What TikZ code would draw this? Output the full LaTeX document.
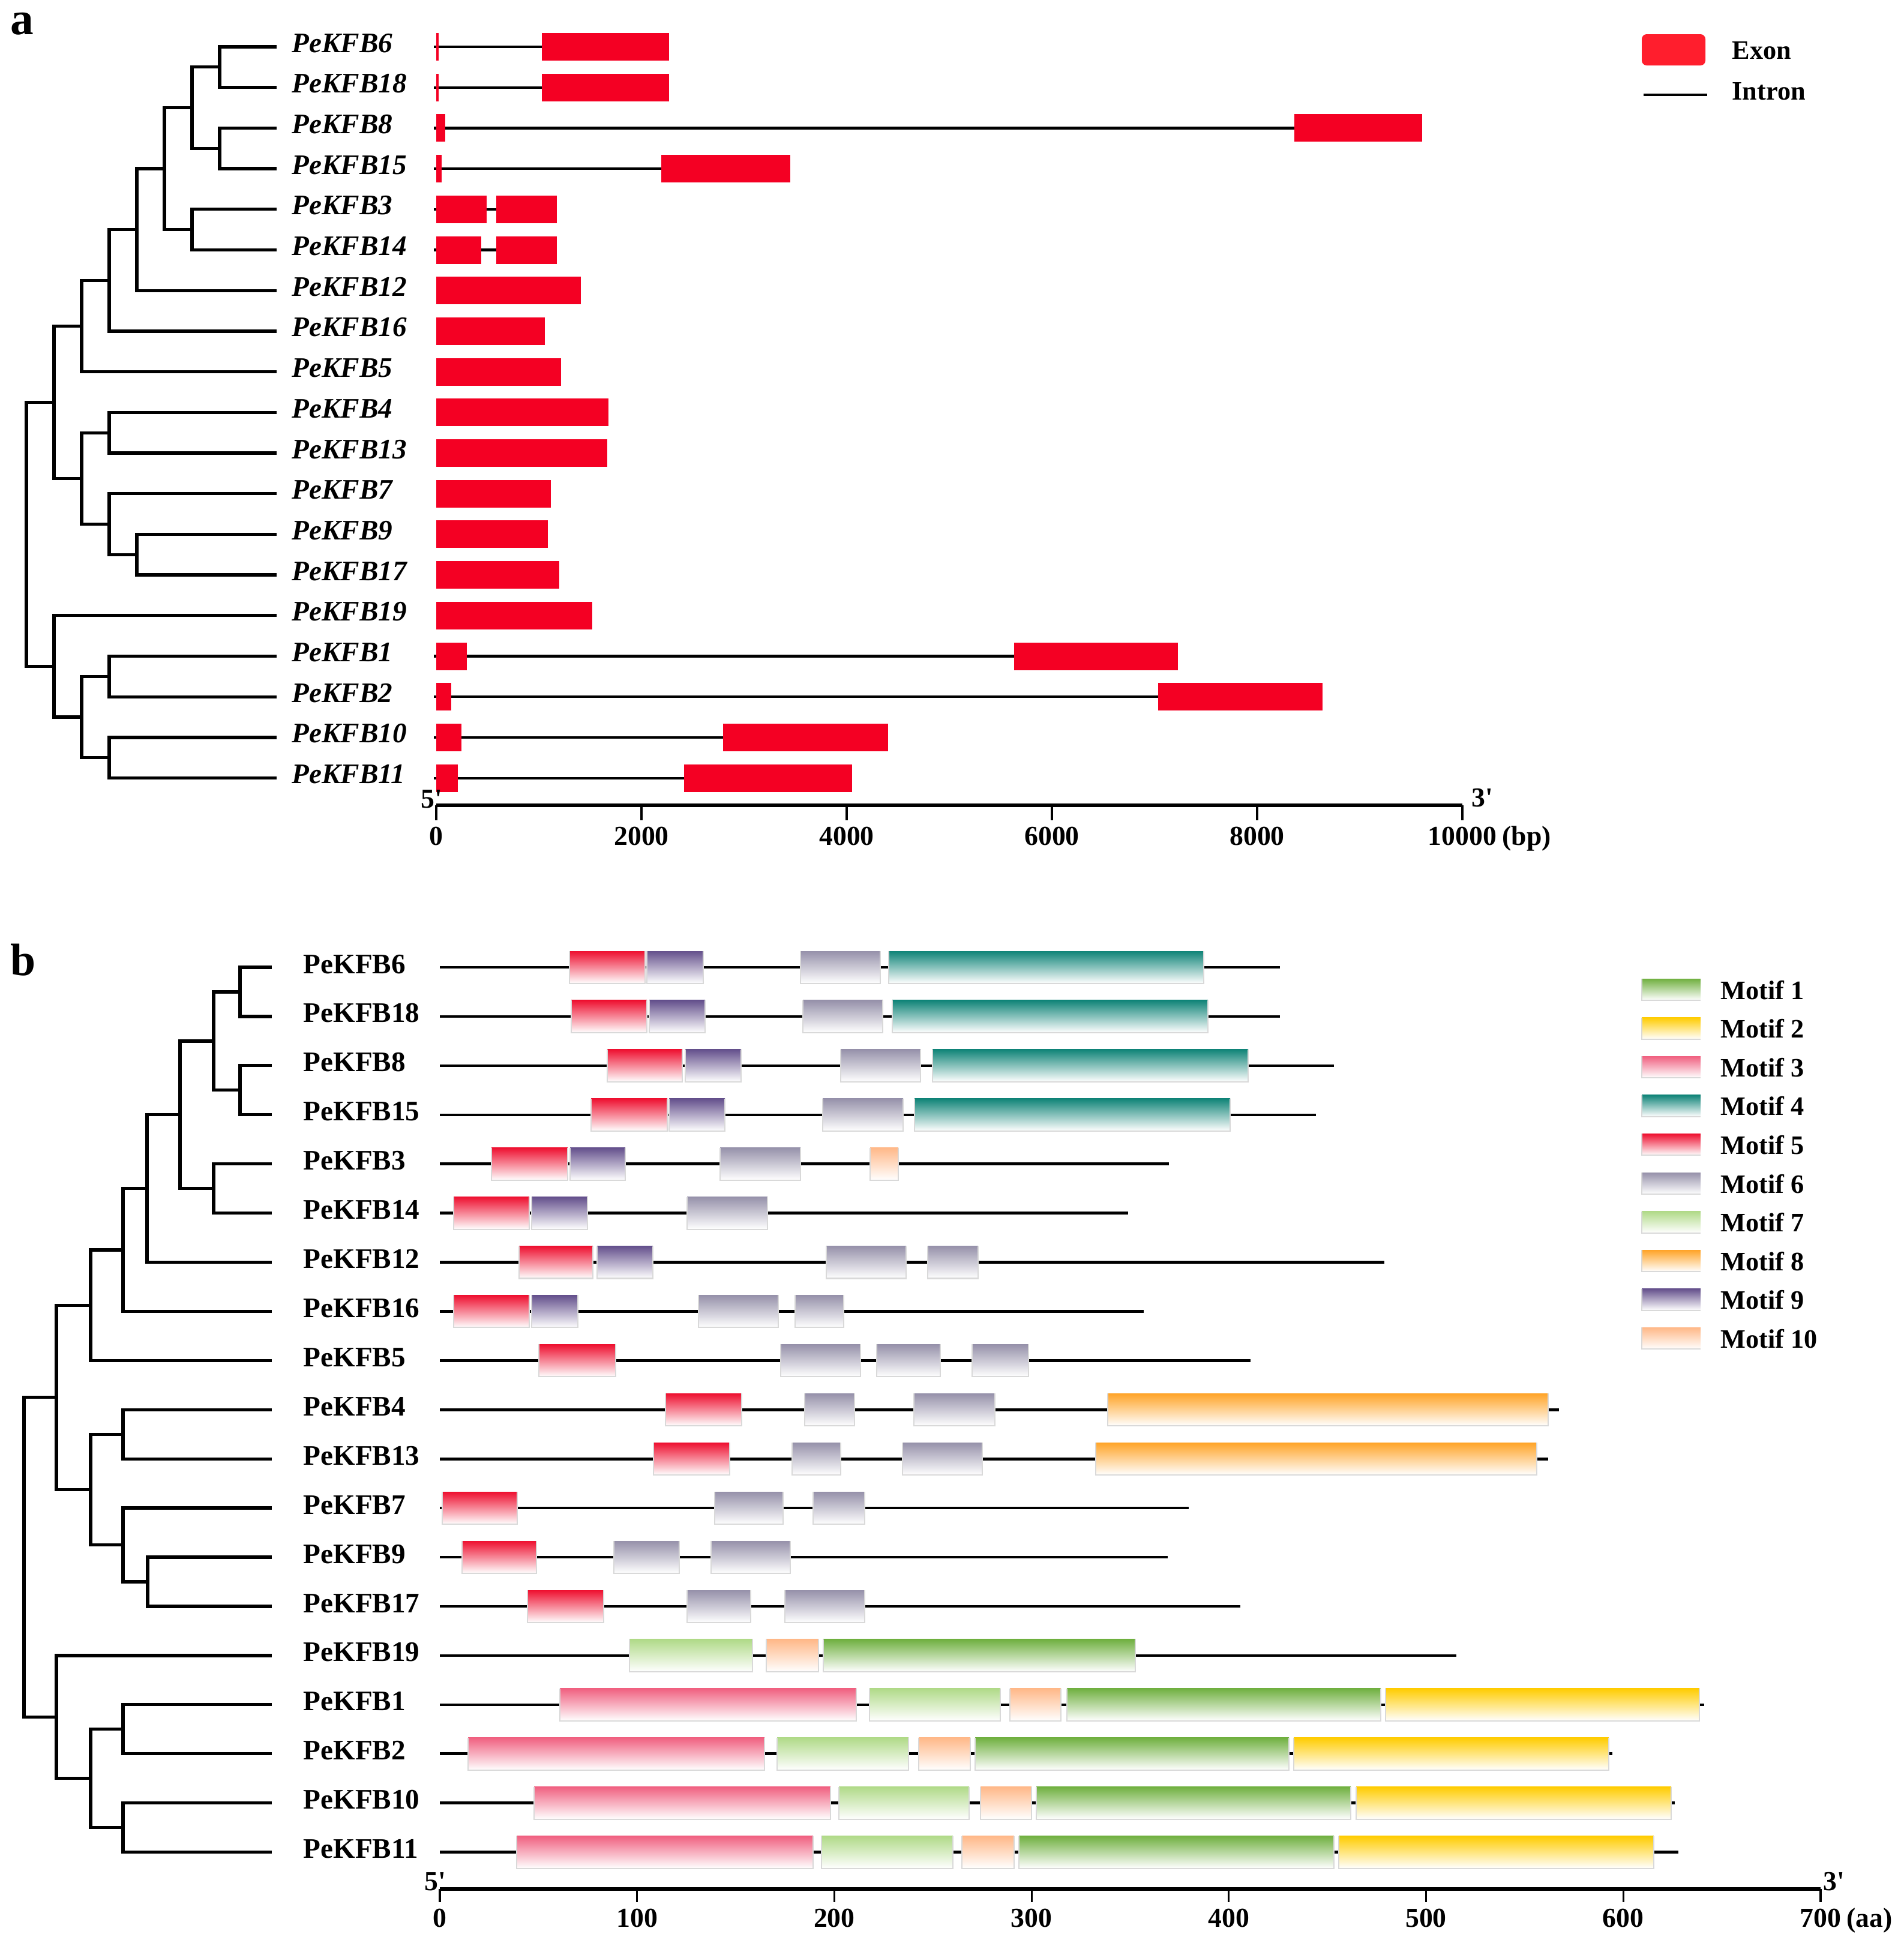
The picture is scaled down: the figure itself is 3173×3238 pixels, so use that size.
\documentclass[tikz,border=0pt]{standalone}
\usepackage{fontspec}
\setmainfont{Liberation Serif}
\definecolor{exonred}{RGB}{244,0,35}
\definecolor{legred}{RGB}{255,30,45}
\definecolor{mot1}{RGB}{112,176,64}
\definecolor{mot2}{RGB}{255,204,0}
\definecolor{mot3}{RGB}{240,96,128}
\definecolor{mot4}{RGB}{16,132,120}
\definecolor{mot5}{RGB}{238,16,48}
\definecolor{mot6}{RGB}{150,145,170}
\definecolor{mot7}{RGB}{176,218,136}
\definecolor{mot8}{RGB}{255,164,40}
\definecolor{mot9}{RGB}{100,80,140}
\definecolor{mot10}{RGB}{255,184,136}
\newcommand\NmFont{\fontsize{13.4pt}{16pt}\selectfont\bfseries}
\newcommand\LgFont{\fontsize{12.6pt}{15pt}\selectfont\bfseries}
\newcommand\AxFont{\fontsize{13pt}{15pt}\selectfont\bfseries}
\newcommand\ExonBox[3]{\fill[exonred] ({#2},{#1-23}) rectangle ({#3},{#1+23});}
\newcommand\IntronLine[3]{\draw[intron] ({#2},{#1}) -- ({#3},{#1});}
\newcommand\ProtLine[2]{\draw[prot] (733,{#1}) -- ({#2},{#1});}
\newcommand\MotifBox[4]{%
  \shade[top color=#4, middle color=#4!45, bottom color=white] ({#2},{#1-27}) rectangle ({#3},{#1+27});
  \draw[black!15, line width=0.6pt] ({#2},{#1-27}) -- ({#2},{#1+27}) -- ({#3},{#1+27}) -- ({#3},{#1-27});}
\newcommand\LegBox[2]{%
  \shade[top color=#2, middle color=#2!45, bottom color=white] (2736,{#1}) rectangle (2834,{#1+36});
  \draw[black!15, line width=0.6pt] (2736,{#1}) -- (2736,{#1+36}) -- (2834,{#1+36});}
\begin{document}
\begin{tikzpicture}[x=0.01cm,y=-0.01cm,
  treeline/.style={line width=1.5pt, line cap=rect},
  intron/.style={line width=1.2pt},
  prot/.style={line width=1.3pt},
  axisline/.style={line width=1.6pt},
  tickline/.style={line width=0.9pt},
  alab/.style={anchor=base west, inner sep=0pt, font=\NmFont\itshape},
  blab/.style={anchor=base west, inner sep=0pt, font=\NmFont},
  axlab/.style={anchor=base, inner sep=0pt, font=\AxFont},
  leglab/.style={anchor=base west, inner sep=0pt, font=\LgFont}]
\useasboundingbox[fill=white] (0,0) rectangle (3173,3238);

% panel letters
\node[anchor=base west, inner sep=0pt, font=\fontsize{22pt}{24pt}\selectfont\bfseries] (pa) at (17,57) {a};
\node[anchor=base west, inner sep=0pt, font=\fontsize{21.5pt}{24pt}\selectfont\bfseries] (pb) at (17,1625) {b};

% ================= PANEL A =================
\foreach \g/\yy in {6/78,18/145.7,8/213.4,15/281.1,3/348.8,14/416.5,12/484.2,16/551.9,5/619.6,4/687.3,13/755,7/822.7,9/890.4,17/958.1,19/1025.8,1/1093.5,2/1161.2,10/1228.9,11/1296.6}{
  \coordinate (aL\g) at (458,\yy);
  \node[alab] (aT\g) at (486,\yy+9) {PeKFB\g};
}
\coordinate (aN618) at (366,111.85);
\coordinate (aN815) at (366,247.25);
\coordinate (aNAa) at (320,179.55);
\coordinate (aN314) at (320,382.65);
\coordinate (aNA) at (274,281.1);
\coordinate (aNB) at (228,382.65);
\coordinate (aNC) at (182,467.3);
\coordinate (aND) at (136,543.45);
\coordinate (aN413) at (182,721.15);
\coordinate (aN917) at (228,924.25);
\coordinate (aN7917) at (182,873.55);
\coordinate (aNE) at (136,797.35);
\coordinate (aNF) at (90,670.4);
\coordinate (aN12) at (182,1127.35);
\coordinate (aN1011) at (182,1262.75);
\coordinate (aNG) at (136,1195.05);
\coordinate (aNH) at (90,1110.4);
\coordinate (aRoot) at (44,890.4);
\foreach \p/\c in {aRoot/aNF,aRoot/aNH,aNF/aND,aNF/aNE,aND/aNC,aND/aL5,aNC/aNB,aNC/aL16,aNB/aNA,aNB/aL12,aNA/aNAa,aNA/aN314,aNAa/aN618,aNAa/aN815,aN618/aL6,aN618/aL18,aN815/aL8,aN815/aL15,aN314/aL3,aN314/aL14,aNE/aN413,aNE/aN7917,aN413/aL4,aN413/aL13,aN7917/aL7,aN7917/aN917,aN917/aL9,aN917/aL17,aNH/aL19,aNH/aNG,aNG/aN12,aNG/aN1011,aN12/aL1,aN12/aL2,aN1011/aL10,aN1011/aL11}
  \draw[treeline] (\p) |- (\c);

% gene structures
\IntronLine{78}{723}{1115} \ExonBox{78}{727}{731} \ExonBox{78}{903}{1115}
\IntronLine{145.7}{723}{1115} \ExonBox{145.7}{727}{731} \ExonBox{145.7}{903}{1115}
\IntronLine{213.4}{723}{2370} \ExonBox{213.4}{727}{742} \ExonBox{213.4}{2157}{2370}
\IntronLine{281.1}{723}{1317} \ExonBox{281.1}{727}{736} \ExonBox{281.1}{1102}{1317}
\IntronLine{348.8}{723}{927} \ExonBox{348.8}{727}{811} \ExonBox{348.8}{826.5}{927.5}
\IntronLine{416.5}{723}{927} \ExonBox{416.5}{727}{802} \ExonBox{416.5}{826.5}{927.5}
\ExonBox{484.2}{727}{968}
\ExonBox{551.9}{727}{908}
\ExonBox{619.6}{727}{935}
\ExonBox{687.3}{727}{1014}
\ExonBox{755}{727}{1012}
\ExonBox{822.7}{727}{918}
\ExonBox{890.4}{727}{913}
\ExonBox{958.1}{727}{932}
\ExonBox{1025.8}{727}{987}
\IntronLine{1093.5}{723}{1963} \ExonBox{1093.5}{727}{777.5} \ExonBox{1093.5}{1690}{1963}
\IntronLine{1161.2}{723}{2204} \ExonBox{1161.2}{727}{752} \ExonBox{1161.2}{1930}{2204}
\IntronLine{1228.9}{723}{1480} \ExonBox{1228.9}{727}{769} \ExonBox{1228.9}{1205}{1480}
\IntronLine{1296.6}{723}{1420} \ExonBox{1296.6}{727}{763} \ExonBox{1296.6}{1140}{1420}

% legend a
\fill[legred, rounded corners=2.3pt] (2736,57) rectangle (2842,109);
\draw[line width=1.4pt] (2739,158) -- (2845,158);
\node[leglab] (lgExon) at (2886,98) {Exon};
\node[leglab] (lgIntron) at (2886,166) {Intron};

% axis a
\draw[axisline] (727,1342) -- (2437,1342);
\foreach \v [count=\k from 0] in {0,2000,4000,6000,8000,10000}
  \draw[tickline] ({727+342*\k},1342) -- ({727+342*\k},1367);
\foreach \v [count=\k from 0] in {0,2000,4000,6000,8000}
  \node[axlab] (aX\k) at ({727+342*\k},1408) {\v};
\node[axlab] (aX5) at (2437,1408) {10000};
\node[anchor=base west, inner sep=0pt, font=\AxFont] (aXu) at ([xshift=0.08cm]aX5.base east) {(bp)};
\node[anchor=base west, inner sep=0pt, font=\AxFont] (a5p) at (701,1346) {5\textquotesingle};
\node[anchor=base west, inner sep=0pt, font=\AxFont] (a3p) at (2452,1344) {3\textquotesingle};

% ================= PANEL B =================
\foreach \g/\yy in {6/1612,18/1693.9,8/1775.8,15/1857.8,3/1939.7,14/2021.6,12/2103.5,16/2185.4,5/2267.4,4/2349.3,13/2431.2,7/2513.1,9/2595,17/2677,19/2758.9,1/2840.8,2/2922.7,10/3004.6,11/3086.6}{
  \coordinate (bL\g) at (450,\yy);
  \node[blab] (bT\g) at (505,\yy+10) {PeKFB\g};
}
\coordinate (bN618) at (400,1652.95);
\coordinate (bN815) at (400,1816.8);
\coordinate (bNAa) at (356,1734.9);
\coordinate (bN314) at (356,1980.65);
\coordinate (bNA) at (300,1857.8);
\coordinate (bNB) at (245,1980.65);
\coordinate (bNC) at (205,2083.0);
\coordinate (bND) at (151,2175.2);
\coordinate (bN413) at (205,2390.25);
\coordinate (bN917) at (246,2636.0);
\coordinate (bN7917) at (205,2574.55);
\coordinate (bNE) at (151,2482.4);
\coordinate (bNF) at (94,2328.8);
\coordinate (bN12) at (205,2881.75);
\coordinate (bN1011) at (205,3045.6);
\coordinate (bNG) at (151,2963.7);
\coordinate (bNH) at (94,2861.3);
\coordinate (bRoot) at (40,2595.05);
\foreach \p/\c in {bRoot/bNF,bRoot/bNH,bNF/bND,bNF/bNE,bND/bNC,bND/bL5,bNC/bNB,bNC/bL16,bNB/bNA,bNB/bL12,bNA/bNAa,bNA/bN314,bNAa/bN618,bNAa/bN815,bN618/bL6,bN618/bL18,bN815/bL8,bN815/bL15,bN314/bL3,bN314/bL14,bNE/bN413,bNE/bN7917,bN413/bL4,bN413/bL13,bN7917/bL7,bN7917/bN917,bN917/bL9,bN917/bL17,bNH/bL19,bNH/bNG,bNG/bN12,bNG/bN1011,bN12/bL1,bN12/bL2,bN1011/bL10,bN1011/bL11}
  \draw[treeline] (\p) |- (\c);

% motif rows
\ProtLine{1612}{2133}
\MotifBox{1612}{949}{1075}{mot5}\MotifBox{1612}{1078}{1172}{mot9}\MotifBox{1612}{1334}{1467}{mot6}\MotifBox{1612}{1481}{2006}{mot4}
\ProtLine{1693.9}{2133}
\MotifBox{1693.9}{952}{1078}{mot5}\MotifBox{1693.9}{1082}{1175}{mot9}\MotifBox{1693.9}{1338}{1471}{mot6}\MotifBox{1693.9}{1487}{2013}{mot4}
\ProtLine{1775.8}{2223}
\MotifBox{1775.8}{1012}{1137}{mot5}\MotifBox{1775.8}{1142}{1235}{mot9}\MotifBox{1775.8}{1401}{1534}{mot6}\MotifBox{1775.8}{1554}{2080}{mot4}
\ProtLine{1857.8}{2193}
\MotifBox{1857.8}{985}{1112}{mot5}\MotifBox{1857.8}{1115}{1208}{mot9}\MotifBox{1857.8}{1371}{1505}{mot6}\MotifBox{1857.8}{1524}{2050}{mot4}
\ProtLine{1939.7}{1948}
\MotifBox{1939.7}{819}{946}{mot5}\MotifBox{1939.7}{950}{1042}{mot9}\MotifBox{1939.7}{1200}{1334}{mot6}\MotifBox{1939.7}{1450}{1497}{mot10}
\ProtLine{2021.6}{1880}
\MotifBox{2021.6}{756}{882}{mot5}\MotifBox{2021.6}{886}{979}{mot9}\MotifBox{2021.6}{1145}{1279}{mot6}
\ProtLine{2103.5}{2307}
\MotifBox{2103.5}{865}{988}{mot5}\MotifBox{2103.5}{995}{1088}{mot9}\MotifBox{2103.5}{1377}{1510}{mot6}\MotifBox{2103.5}{1546}{1630}{mot6}
\ProtLine{2185.4}{1906}
\MotifBox{2185.4}{756}{882}{mot5}\MotifBox{2185.4}{886}{963}{mot9}\MotifBox{2185.4}{1164}{1297}{mot6}\MotifBox{2185.4}{1325}{1406}{mot6}
\ProtLine{2267.4}{2084}
\MotifBox{2267.4}{898}{1026}{mot5}\MotifBox{2267.4}{1301}{1434}{mot6}\MotifBox{2267.4}{1461}{1567}{mot6}\MotifBox{2267.4}{1620}{1714}{mot6}
\ProtLine{2349.3}{2598}
\MotifBox{2349.3}{1109}{1236}{mot5}\MotifBox{2349.3}{1341}{1424}{mot6}\MotifBox{2349.3}{1523}{1658}{mot6}\MotifBox{2349.3}{1846}{2580}{mot8}
\ProtLine{2431.2}{2580}
\MotifBox{2431.2}{1089}{1216}{mot5}\MotifBox{2431.2}{1320}{1401}{mot6}\MotifBox{2431.2}{1504}{1637}{mot6}\MotifBox{2431.2}{1826}{2561}{mot8}
\ProtLine{2513.1}{1981}
\MotifBox{2513.1}{737}{862}{mot5}\MotifBox{2513.1}{1191}{1305}{mot6}\MotifBox{2513.1}{1355}{1441}{mot6}
\ProtLine{2595}{1946}
\MotifBox{2595}{770}{894}{mot5}\MotifBox{2595}{1023}{1132}{mot6}\MotifBox{2595}{1185}{1317}{mot6}
\ProtLine{2677}{2067}
\MotifBox{2677}{879}{1006}{mot5}\MotifBox{2677}{1145}{1251}{mot6}\MotifBox{2677}{1308}{1441}{mot6}
\ProtLine{2758.9}{2427}
\MotifBox{2758.9}{1049}{1254}{mot7}\MotifBox{2758.9}{1277}{1364}{mot10}\MotifBox{2758.9}{1372}{1892}{mot1}
\ProtLine{2840.8}{2840}
\MotifBox{2840.8}{933}{1427}{mot3}\MotifBox{2840.8}{1449}{1667}{mot7}\MotifBox{2840.8}{1683}{1768}{mot10}\MotifBox{2840.8}{1778}{2301}{mot1}\MotifBox{2840.8}{2309}{2832}{mot2}
\ProtLine{2922.7}{2687}
\MotifBox{2922.7}{780}{1274}{mot3}\MotifBox{2922.7}{1295}{1514}{mot7}\MotifBox{2922.7}{1531}{1617}{mot10}\MotifBox{2922.7}{1625}{2148}{mot1}\MotifBox{2922.7}{2156}{2681}{mot2}
\ProtLine{3004.6}{2791}
\MotifBox{3004.6}{890}{1384}{mot3}\MotifBox{3004.6}{1398}{1615}{mot7}\MotifBox{3004.6}{1634}{1719}{mot10}\MotifBox{3004.6}{1727}{2251}{mot1}\MotifBox{3004.6}{2260}{2785}{mot2}
\ProtLine{3086.6}{2797}
\MotifBox{3086.6}{861}{1355}{mot3}\MotifBox{3086.6}{1369}{1588}{mot7}\MotifBox{3086.6}{1603}{1690}{mot10}\MotifBox{3086.6}{1698}{2223}{mot1}\MotifBox{3086.6}{2231}{2756}{mot2}

% legend b
\foreach \c [count=\k from 0] in {1,...,10}{
  \LegBox{1631+64.6*\k}{mot\c}
  \node[leglab] (lgM\c) at (2867,1665+64.6*\k) {Motif \c};
}

% axis b
\draw[axisline] (733,3148) -- (3034,3148);
\foreach \k in {0,...,7}
  \draw[tickline] ({733+328.7*\k},3148) -- ({733+328.7*\k},3170);
\foreach \v [count=\k from 0] in {0,100,200,300,400,500,600}
  \node[axlab] (bX\k) at ({733+328.7*\k},3211) {\v};
\node[axlab] (bX7) at (3034,3211) {700};
\node[anchor=base west, inner sep=0pt, font=\AxFont] (bXu) at ([xshift=0.08cm]bX7.base east) {(aa)};
\node[anchor=base west, inner sep=0pt, font=\AxFont] (b5p) at (707,3150) {5\textquotesingle};
\node[anchor=base west, inner sep=0pt, font=\AxFont] (b3p) at (3038,3150) {3\textquotesingle};
\end{tikzpicture}
\end{document}
